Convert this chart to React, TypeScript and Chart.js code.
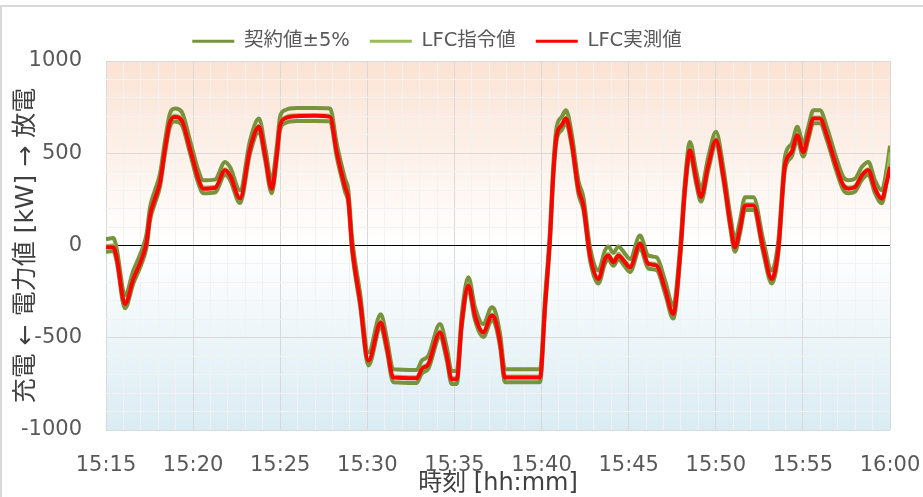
import React, { useEffect, useRef } from "react";
import { Chart, registerables } from "chart.js";

Chart.register(...registerables);

// time in minutes after 15:00
const TIME_MIN = [
  15.0, 15.42, 15.6, 16.09, 16.57, 17.05, 17.33, 17.53, 17.81, 18.1,
  18.39, 18.67, 18.96, 19.34, 19.82, 20.3, 20.59, 21.26, 21.83, 22.12,
  22.69, 23.27, 23.78, 24.13, 24.51, 24.8, 24.99, 25.27, 25.94, 27.0,
  27.86, 28.24, 28.72, 28.91, 29.12, 29.58, 30.06, 30.77, 31.11, 31.49,
  32.83, 33.12, 33.5, 34.17, 34.56, 34.84, 35.13, 35.42, 35.8, 36.18,
  36.66, 37.14, 37.33, 37.62, 37.9, 39.91, 40.2, 40.48, 40.68, 40.87,
  41.16, 41.4, 41.73, 42.11, 42.4, 42.78, 43.26, 43.64, 43.83, 44.12,
  44.41, 44.79, 45.08, 45.65, 46.13, 46.61, 47.09, 47.56, 47.95, 48.23,
  48.52, 48.87, 49.15, 49.57, 50.01, 50.43, 50.82, 51.1, 51.39, 51.68,
  52.16, 52.73, 53.21, 53.59, 53.97, 54.36, 54.68, 55.02, 55.31, 55.6,
  55.98, 56.37, 56.84, 57.32, 57.61, 57.99, 58.38, 58.76, 59.14, 59.53,
  59.81, 60.0,
];

// LFC指令値 [kW]
const LFC_COMMAND_KW = [
  0, 5, -45, -305, -170, -62, 28, 173, 264, 354,
  535, 680, 707, 690, 535, 372, 318, 322, 418, 390,
  265, 535, 653, 499, 318, 499, 662, 698, 710, 710,
  708, 517, 327, 264, 10, -290, -615, -407, -533, -706,
  -710, -660, -633, -461, -588, -715, -715, -407, -207, -370,
  -461, -370, -389, -515, -706, -706, -316, 46, 409, 608,
  662, 698, 572, 318, 227, -44, -171, -62, -40, -75,
  -40, -80, -108, 19, -90, -99, -226, -361, -44, 318,
  526, 372, 273, 445, 581, 390, 137, 1, 101, 227,
  227, -8, -171, -8, 445, 517, 608, 517, 608, 698,
  698, 608, 463, 336, 318, 327, 390, 418, 318, 264,
  380, 505,
];

// LFC実測値 [kW]
const LFC_MEASURED_KW = [
  -10, -10, -60, -317, -181, -72, 18, 163, 254, 344,
  525, 670, 697, 679, 525, 362, 308, 312, 408, 380,
  255, 525, 643, 489, 308, 489, 652, 688, 701, 703,
  697, 507, 317, 254, 0, -300, -625, -417, -543, -716,
  -720, -670, -643, -471, -598, -725, -725, -417, -217, -380,
  -471, -380, -399, -525, -716, -716, -326, 36, 399, 598,
  652, 688, 562, 308, 217, -54, -181, -72, -54, -91,
  -54, -91, -118, 9, -100, -109, -236, -371, -54, 308,
  516, 362, 263, 435, 571, 380, 127, -9, 91, 217,
  217, -18, -181, -18, 435, 507, 598, 507, 598, 688,
  688, 598, 453, 326, 308, 317, 380, 408, 308, 254,
  344, 426,
];

// 契約値±5% : 5% of the 700 kW rating
const RATED_KW = 700;
const TOLERANCE = 0.05;

const SERIES_LABELS = ["契約値±5%", "LFC指令値", "LFC実測値"];
const X_MIN = 15; // 15:15
const X_MAX = 60; // 16:00
const Y_MIN = -1000;
const Y_MAX = 1000;
const X_TITLE = "時刻 [hh:mm]";
const Y_TITLE = "充電 ← 電力値 [kW] → 放電";

const FONT = "'DejaVu Sans', 'Noto Sans CJK JP', sans-serif";

const bgPlugin = {
  id: "plotBg",
  beforeDraw(chart: any) {
    const { ctx, chartArea: a } = chart;
    if (!a) return;
    const g = ctx.createLinearGradient(0, a.top, 0, a.bottom);
    g.addColorStop(0, "#FBE3D4");
    g.addColorStop(0.5, "#FFFFFF");
    g.addColorStop(1, "#DAECF3");
    ctx.save();
    ctx.fillStyle = g;
    ctx.fillRect(a.left, a.top, a.right - a.left, a.bottom - a.top);
    ctx.restore();
  },
};

const legendShift = {
  id: "legendShift",
  afterLayout(chart: any) {
    const l = chart.legend;
    if (l) {
      l.left -= 8;
      l.right -= 8;
    }
  },
};

export default function App() {
  const ref = useRef<HTMLCanvasElement | null>(null);

  useEffect(() => {
    if (!ref.current) return;
    const band = RATED_KW * TOLERANCE;
    const cmd = TIME_MIN.map((t, i) => ({ x: t, y: LFC_COMMAND_KW[i] }));
    const upper = TIME_MIN.map((t, i) => ({ x: t, y: LFC_COMMAND_KW[i] + band }));
    const lower = TIME_MIN.map((t, i) => ({ x: t, y: LFC_COMMAND_KW[i] - band }));
    const meas = TIME_MIN.map((t, i) => ({ x: t, y: LFC_MEASURED_KW[i] }));

    const common = {
      pointRadius: 0,
      pointHoverRadius: 0,
      cubicInterpolationMode: "monotone" as const,
      fill: false,
    };

    const chart = new Chart(ref.current, {
      type: "line",
      data: {
        datasets: [
          { ...common, label: SERIES_LABELS[0], data: upper, borderColor: "#77933C", backgroundColor: "#77933C", borderWidth: 4, order: 3 },
          { ...common, label: SERIES_LABELS[0] + "_lower", data: lower, borderColor: "#77933C", backgroundColor: "#77933C", borderWidth: 4, order: 3 },
          { ...common, label: SERIES_LABELS[1], data: cmd, borderColor: "#9BBB59", backgroundColor: "#9BBB59", borderWidth: 2.5, order: 2 },
          { ...common, label: SERIES_LABELS[2], data: meas, borderColor: "#FF0000", backgroundColor: "#FF0000", borderWidth: 4, order: 1 },
        ],
      },
      options: {
        responsive: false,
        animation: false,
        events: [],
        layout: { padding: { left: 0, right: 33, top: 11.5, bottom: 0 } },
        plugins: {
          tooltip: { enabled: false },
          legend: {
            position: "top",
            labels: {
              boxWidth: 42,
              boxHeight: 3,
              padding: 20,
              color: "#595959",
              font: { family: FONT, size: 19.5 },
              generateLabels: (c: any) =>
                (Chart.defaults.plugins.legend.labels as any)
                  .generateLabels(c)
                  .filter((it: any) => it.datasetIndex !== 1)
                  .sort((a: any, b: any) => a.datasetIndex - b.datasetIndex)
                  .map((it: any) => ({ ...it, lineWidth: 0 })),
            },
          },
        },
        scales: {
          x: {
            type: "linear",
            min: X_MIN,
            max: X_MAX,
            afterFit: (s: any) => {
              s.height = 67;
              s.paddingLeft = 0;
              s.paddingRight = 0;
            },
            border: { display: false },
            grid: {
              drawTicks: false,
              color: (ctx: any) => (ctx.tick && ctx.tick.value % 5 === 0 ? "#D9D9D9" : "#F2F2F2"),
            },
            ticks: {
              stepSize: 1,
              autoSkip: false,
              maxRotation: 0,
              padding: 23,
              color: "#595959",
              font: { family: FONT, size: 21 },
              callback: (v: any) => {
                const n = Number(v);
                if (Math.round(n) % 5 !== 0) return "";
                const total = 15 * 60 + Math.round(n);
                const hh = Math.floor(total / 60);
                const mm = total % 60;
                return `${hh}:${mm < 10 ? "0" + mm : mm}`;
              },
            },
            title: {
              display: true,
              text: X_TITLE,
              color: "#404040",
              font: { family: FONT, size: 24, lineHeight: 1.1 },
              padding: { top: 0, bottom: 0 },
            },
          },
          y: {
            min: Y_MIN,
            max: Y_MAX,
            afterFit: (s: any) => {
              s.width = 106;
            },
            border: { display: false },
            grid: {
              drawTicks: false,
              color: (ctx: any) => {
                const v = ctx.tick ? ctx.tick.value : 1;
                if (v === 0) return "#000000";
                return v % 500 === 0 ? "#D9D9D9" : "#F2F2F2";
              },
            },
            ticks: {
              stepSize: 100,
              autoSkip: false,
              padding: 24,
              color: "#595959",
              font: { family: FONT, size: 21 },
              callback: (v: any) => (Number(v) % 500 === 0 ? String(v) : ""),
            },
            title: {
              display: true,
              text: Y_TITLE,
              color: "#404040",
              font: { family: FONT, size: 25 },
              padding: { top: 11, bottom: 0 },
            },
          },
        },
      },
      plugins: [bgPlugin, legendShift],
    });
    return () => chart.destroy();
  }, []);

  return (
    <div style={{ position: "absolute", left: 0, top: 0, width: 923, height: 497, overflow: "hidden", background: "#fff" }}>
      <div
        style={{
          position: "absolute",
          left: 0,
          top: 5,
          width: 960,
          height: 540,
          border: "2px solid #D9D9D9",
          boxSizing: "border-box",
        }}
      />
      <canvas ref={ref} width={923} height={497} style={{ position: "absolute", left: 0, top: 0, width: 923, height: 497 }} />
    </div>
  );
}
